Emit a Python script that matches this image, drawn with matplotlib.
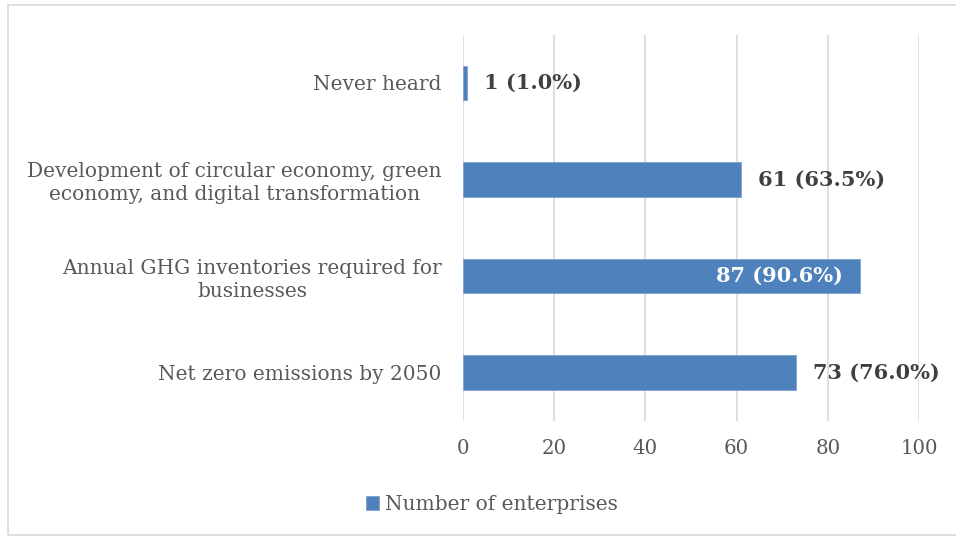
import matplotlib.pyplot as plt
from matplotlib.patches import Rectangle

categories = [
    "Net zero emissions by 2050",
    "Annual GHG inventories required for\nbusinesses",
    "Development of circular economy, green\neconomy, and digital transformation",
    "Never heard",
]
counts = [73, 87, 61, 1]
percents = [76.0, 90.6, 63.5, 1.0]
xticks = [0, 20, 40, 60, 80, 100]
series_name = "Number of enterprises"

BAR_COLOR = "#4F81BD"
TEXT_COLOR = "#595959"
LABEL_COLOR = "#404040"
GRID_COLOR = "#D9D9D9"

plt.rcParams["font.family"] = ["DejaVu Serif"]

fig = plt.figure(figsize=(9.56, 5.37), dpi=100)
fig.patches.append(Rectangle((8 / 956, 2 / 537), 1.2, 530 / 537, transform=fig.transFigure,
                             fill=False, edgecolor=GRID_COLOR, linewidth=1.2))
ax = fig.add_axes([0.484, 0.2165, 0.4776, 0.7188])

y = range(len(categories))
ax.barh(y, counts, height=0.36, color=BAR_COLOR, edgecolor="#7FA2CF", linewidth=0.6,
        label=series_name, zorder=3)

for yi, c, p in zip(y, counts, percents):
    text = f"{c} ({p:.1f}%)"
    if c == 87:
        ax.annotate(text, (c, yi), xytext=(-12, 0), textcoords="offset points",
                    ha="right", va="center", fontsize=15, fontweight="bold",
                    color="white", zorder=4)
    else:
        ax.annotate(text, (c, yi), xytext=(12, 0), textcoords="offset points",
                    ha="left", va="center", fontsize=15, fontweight="bold",
                    color=LABEL_COLOR, zorder=4)

ax.set_xlim(0, 100)
ax.set_ylim(-0.5, 3.5)
ax.set_xticks(xticks)
ax.set_yticks(list(y))
ax.set_yticklabels(categories, fontsize=14.5, color=TEXT_COLOR, ha="right",
                   multialignment="center", linespacing=1.25)
ax.tick_params(axis="x", labelsize=14.2, colors=TEXT_COLOR, length=0, pad=13)
ax.tick_params(axis="y", length=0, pad=15)
ax.grid(axis="x", color=GRID_COLOR, linewidth=1.2, zorder=0)
for s in ["top", "right", "bottom", "left"]:
    ax.spines[s].set_visible(False)

leg = fig.legend(loc="center", bbox_to_anchor=(0.515, 0.06), frameon=False,
                 fontsize=14.5, handlelength=0.65, handleheight=0.65, handletextpad=0.3)
for t in leg.get_texts():
    t.set_color(TEXT_COLOR)

fig.savefig("out.png", dpi=100)
